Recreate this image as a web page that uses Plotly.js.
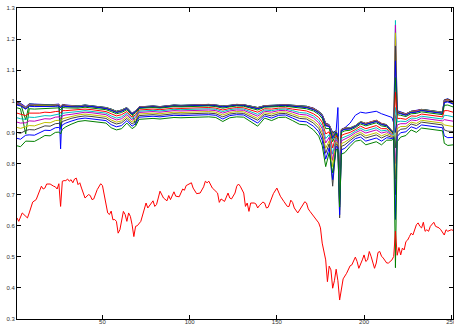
<!DOCTYPE html>
<html><head><meta charset="utf-8">
<script src="https://cdn.plot.ly/plotly-3.0.1.min.js"></script>
<style>html,body{margin:0;padding:0;background:#fff}#chart{width:454px;height:326px}</style>
</head><body><div id="chart"></div>
<script>
// Bundle x positions (shared by the 16 upper series)
const xb = [1,3,6,8,11,14,17,20,23,25,26,27,29,32,36,40,44,48,52,55,58,61,64,67,69,71,75,79,83,87,91,95,99,103,107,111,115,119,123,127,131,135,139,143,147,151,155,159,163,167,171,174,176,178,180,182,184,185,186,187,189,192,195,198,201,204,207,210,213,216,217,218,219,221,224,227,230,233,236,239,242,245,246,248,251];

// Series values in thousandths
const s01 = [997,994,982,992,991,990,990,989,990,991, 847,990,988,986,985,988,986,984,980,975, 968,972,980,962,970,982,984,985,983,986, 988,987,988,988,990,990,988,985,987,990, 989,984,980,986,988,988,989,988,986,984, 978,968,958,930,925,900,905,980,700,910, 915,930,955,965,962,965,968,960,955,948, 930,900,970,965,960,968,970,974,972,970, 968,965,1005,1008,1000];
const s02 = [996,993,940,991,990,989,989,988,989,990, 915,989,987,986,985,988,986,984,980,975, 968,972,980,962,925,982,984,985,983,986, 988,987,988,988,990,990,988,985,987,990, 989,984,980,986,988,988,989,988,986,984, 977,967,957,929,924,898,905,885,760,909, 914,915,922,935,929,934,939,929,925,905, 900,850,969,964,959,968,969,974,972,970, 968,965,1004,1007,999];
const s03 = [995,992,980,990,989,988,988,987,989,990, 984,989,987,985,984,987,985,983,979,974, 967,971,979,961,969,981,983,984,982,985, 987,986,987,987,989,989,987,984,986,989, 988,983,979,985,987,987,988,987,985,983, 977,967,956,928,924,895,904,884,740,909, 914,914,921,934,929,934,939,929,924,905, 900,950,968,964,959,967,969,973,971,969, 967,964,1003,1006,998];
const s04 = [994,991,979,989,988,987,988,987,988,989, 983,988,986,985,984,987,985,983,979,974, 967,971,979,961,969,981,983,984,982,985, 987,986,987,987,989,989,987,984,986,989, 988,983,979,985,987,987,988,987,985,983, 976,966,956,927,923,893,904,884,780,908, 913,914,921,934,928,933,938,928,924,904, 900,1260,968,963,958,967,968,973,971,969, 967,964,1002,1004,997];
const s05 = [993,990,978,988,987,986,987,986,987,988, 982,987,986,984,983,986,984,982,978,973, 966,970,978,960,968,981,983,984,982,985, 987,986,987,987,989,989,987,983,986,989, 988,982,978,985,986,987,988,986,984,982, 976,965,955,926,922,890,903,884,770,907, 912,913,920,933,928,933,938,928,923,904, 899,1245,967,962,958,966,968,972,970,968, 966,963,1001,1003,996];
const s06 = [991,988,978,987,986,986,986,985,986,987, 981,987,985,984,983,986,984,982,978,973, 966,970,978,960,968,980,982,983,981,984, 986,985,986,986,988,988,986,983,985,988, 987,982,978,984,986,986,987,986,984,982, 975,965,954,924,921,887,903,883,750,907, 912,913,920,933,927,932,937,927,923,904, 899,1220,966,962,957,966,967,972,970,968, 966,963,999,1002,994];
const s07 = [990,987,976,986,985,984,985,984,985,986, 980,986,984,983,982,985,983,981,977,972, 965,969,977,959,967,980,982,983,981,984, 986,985,986,986,988,988,986,982,985,988, 987,981,977,984,985,986,987,985,983,981, 974,964,953,923,920,884,902,883,730,906, 911,912,919,932,926,931,936,926,922,903, 899,1178,965,961,956,965,966,971,969,967, 965,962,998,1000,993];
const s08 = [988,985,975,984,983,983,983,982,984,985, 979,985,983,982,982,985,983,981,977,971, 964,968,977,959,967,979,981,982,980,983, 985,984,985,985,987,987,985,982,984,987, 986,981,976,983,985,985,986,985,982,980, 973,963,951,921,919,880,901,882,720,905, 910,911,919,931,925,930,935,925,922,903, 899,1130,963,960,955,964,965,970,968,966, 964,961,996,998,991];
const s09 = [979,976,895,976,975,976,977,976,978,979, 973,980,979,978,978,981,979,977,973,967, 960,964,973,955,963,977,979,980,978,981, 983,982,983,983,985,985,983,978,982,985, 984,977,972,981,981,983,984,981,978,976, 969,958,945,912,913,870,897,880,710,900, 905,907,915,927,921,926,931,921,918,901, 897,1076,957,955,951,960,961,966,964,962, 960,957,987,988,982];
const s10 = [962,959,954,962,961,962,965,964,967,968, 962,970,970,971,972,975,973,971,967,960, 953,957,967,949,957,972,974,975,973,976, 978,977,978,978,980,980,978,972,977,980, 979,971,965,976,975,978,979,975,971,969, 960,948,933,895,902,850,890,875,668,890, 895,900,909,920,912,917,922,912,912,897, 895,1030,945,945,942,953,952,959,957,955, 953,950,970,970,965];
const s11 = [947,944,942,949,948,950,954,953,958,959, 953,961,963,964,967,970,968,966,962,953, 946,950,962,944,952,968,970,971,969,972, 974,973,974,974,976,976,974,967,973,976, 975,966,958,972,970,974,975,970,964,962, 953,939,922,880,893,830,883,871,700,881, 886,893,904,913,905,910,915,905,907,894, 893,980,934,936,935,946,945,952,950,948, 946,943,955,954,950];
const s12 = [933,930,931,937,936,939,944,943,949,950, 944,953,956,958,962,965,963,961,957,947, 940,944,957,939,947,964,966,967,965,968, 970,969,970,970,972,972,970,962,969,972, 971,961,952,968,965,970,971,965,958,956, 946,931,912,866,884,810,877,867,690,873, 878,887,899,907,898,903,908,898,902,891, 885,800,924,928,928,940,938,946,944,942, 940,937,941,939,936];
const s13 = [916,913,918,922,921,926,932,931,938,939, 933,944,947,951,956,959,957,955,951,940, 933,937,951,933,941,959,961,962,960,963, 965,964,965,965,967,967,965,956,964,967, 966,955,945,963,959,965,966,959,951,949, 937,922,900,849,873,790,870,862,650,864, 869,880,893,900,889,894,899,889,896,888, 888,750,912,919,919,933,929,939,937,935, 933,930,924,921,919];
const s14 = [900,897,906,909,908,914,921,920,928,929, 923,935,940,945,950,953,951,949,945,934, 927,931,945,927,935,954,956,957,955,958, 960,959,960,960,962,962,960,950,959,962, 961,949,939,958,953,960,961,953,945,943, 930,913,889,833,863,727,864,857,625,855, 860,874,887,894,882,887,892,882,890,884, 886,700,901,910,912,927,922,933,931,929, 927,924,908,904,903];
const s15 = [881,878,891,892,891,899,907,906,915,916, 910,924,930,936,943,946,944,942,938,925, 918,922,938,920,928,949,951,952,950,953, 955,954,955,955,957,957,955,943,954,957, 956,942,930,953,946,955,956,946,936,934, 920,902,875,814,850,748,855,852,635,844, 849,865,880,885,872,877,882,872,883,880, 883,620,887,899,902,918,912,924,922,920, 918,915,889,883,884];
const s16 = [857,854,872,872,871,880,890,889,900,901, 895,910,918,926,935,938,936,934,930,915, 908,912,930,912,920,942,944,945,943,946, 948,947,948,948,950,950,948,935,947,950, 949,934,920,946,938,948,949,938,926,924, 908,888,858,790,835,770,845,845,660,830, 835,855,872,875,860,865,870,860,875,875, 880,465,870,885,890,908,900,914,912,910, 908,905,865,858,860];

// Lower red series
const redX = [1,2,4,6,7,8,10,12,13,14,15,16,17,18,20,22,23,24,25,26,27,28,29,
  30,31,32,33,34,35,36,37,38,39,40,42,43,44,45,47,49,50,51,52,53,54,55,56,57,58,59,60,
  61,62,63,64,65,66,67,68,69,70,72,74,75,76,78,79,80,81,82,83,85,87,88,89,91,92,94,96,97,98,99,
  101,102,104,106,107,108,109,110,111,113,114,116,117,118,120,121,122,123,124,126,127,128,129,131,132,133,134,135,137,138,139,140,
  142,143,144,145,147,148,150,151,152,154,156,157,158,159,160,162,163,164,166,167,168,169,171,173,174,175,176,178,179,180,181,182,183,184,185,186,187,188,
  190,192,193,194,195,196,197,199,200,201,202,203,204,206,207,208,209,210,211,213,214,216,217,218,219,220,221,
  222,223,224,225,226,227,228,229,230,231,232,233,234,235,236,237,238,240,241,243,244,246,247,248,250,251];
const redY = [625,614,641,630,625,641,676,684,700,711,727,718,721,734,734,727,725,718,735,662,743,745,745,
  750,743,748,738,750,753,732,738,721,705,689,700,697,684,686,716,735,729,700,668,641,636,647,619,620,614,576,587,
  619,646,636,614,641,630,603,565,598,600,614,652,673,657,675,680,662,668,689,711,689,680,697,684,709,695,693,718,714,729,732,
  738,721,703,705,716,725,743,738,743,721,716,705,675,686,678,692,705,689,686,705,727,734,727,705,662,673,646,673,673,670,657,665,
  676,673,657,659,689,703,721,705,695,678,662,662,682,675,657,641,651,657,677,673,654,646,630,614,609,593,544,490,420,470,458,399,423,460,423,361,404,429,
  447,471,474,488,499,485,463,490,506,485,490,517,502,463,480,514,517,502,496,480,480,490,501,582,505,530,506,
  528,522,549,554,565,576,570,587,603,609,598,593,611,582,587,582,598,611,598,593,587,570,587,582,587,585];

const yTickVals = [0.3,0.4,0.5,0.6,0.7,0.8,0.9,1.0,1.1,1.2,1.3];
const yTickText = ['0.3','0.4','0.5','0.6','0.7','0.8','0.9','1','1.1','1.2','1.3'];
const xTickVals = [50,100,150,200,250];

const colorOrder = ['#0000ff','#008000','#ff0000','#00bfbf','#bf00bf','#bfbf00','#404040'];
const bundle = [s01,s02,s03,s04,s05,s06,s07,s08,s09,s10,s11,s12,s13,s14,s15,s16];

const traces = bundle.map((s, i) => ({
  x: xb, y: s.map(v => v / 1000), type: 'scatter', mode: 'lines',
  line: {color: colorOrder[i % 7], width: 1}
}));
traces.push({x: redX, y: redY.map(v => v / 1000), type: 'scatter', mode: 'lines',
  line: {color: '#ff0000', width: 1}});

const tickFont = {size: 6, color: '#333', family: 'Liberation Sans, Arial, sans-serif'};
const layout = {
  width: 454, height: 326,
  margin: {l: 17, r: 1, t: 8, b: 7},
  showlegend: false,
  paper_bgcolor: '#ffffff', plot_bgcolor: '#ffffff',
  xaxis: {range: [1, 251], tickmode: 'array', tickvals: xTickVals, ticks: 'inside', ticklen: 4,
    tickcolor: '#000', showline: true, linecolor: '#000', linewidth: 1, mirror: 'ticks',
    showgrid: false, zeroline: false, tickfont: tickFont, ticklabelstandoff: -3,
    ticklabeloverflow: 'allow'},
  yaxis: {range: [0.3, 1.3], tickmode: 'array', tickvals: yTickVals, ticktext: yTickText,
    ticks: 'inside', ticklen: 4, tickcolor: '#000', showline: true, linecolor: '#000', linewidth: 1,
    mirror: 'ticks', showgrid: false, zeroline: false, tickfont: tickFont}
};
Plotly.newPlot('chart', traces, layout, {staticPlot: true, displayModeBar: false});
</script></body></html>
